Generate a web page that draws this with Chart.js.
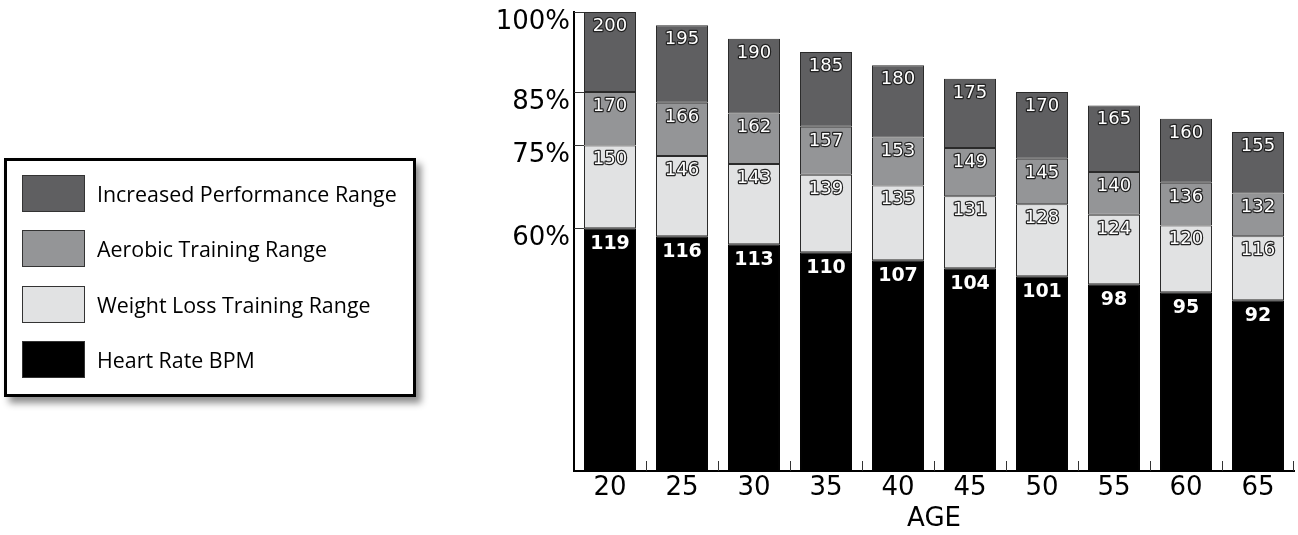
<!DOCTYPE html>
<html>
<head>
<meta charset="utf-8">
<script src="https://cdn.jsdelivr.net/npm/chart.js@4/dist/chart.umd.min.js"></script>
<style>
  html, body { margin: 0; padding: 0; background: #fff; }
  #wrap { position: relative; width: 1298px; height: 535px; overflow: hidden; }
  #c { position: absolute; left: 0; top: 0; }
  #legend {
    position: absolute; left: 4px; top: 158px; width: 406px; height: 233px;
    border: 3px solid #000; background: #fff;
    box-shadow: 5px 6px 7px rgba(0,0,0,0.45);
    font-family: "Open Sans", sans-serif; font-size: 21.4px; color: #000;
  }
  .row { position: absolute; left: 15px; height: 38px; display: flex; align-items: center; }
  .sw { width: 63px; height: 37px; border: 1px solid #333; box-sizing: border-box; margin-right: 12px; }
</style>
</head>
<body>
<div id="wrap">
  <canvas id="c" width="1298" height="535"></canvas>
  <div id="legend"></div>
</div>
<script>
// ---- data ----
const ages = ['20', '25', '30', '35', '40', '45', '50', '55', '60', '65'];
const maxHR = [200, 195, 190, 185, 180, 175, 170, 165, 160, 155];   // 100%
const hr85  = [170, 166, 162, 157, 153, 149, 145, 140, 136, 132];   // 85%
const hr75  = [150, 146, 143, 139, 135, 131, 128, 124, 120, 116];   // 75%
const hr60  = [119, 116, 113, 110, 107, 104, 101, 98, 95, 92];      // 60%
const yTickValues = [200, 170, 150, 119];
const yTickLabels = ['100%', '85%', '75%', '60%'];
const seriesNames = ['Heart Rate BPM', 'Weight Loss Training Range', 'Aerobic Training Range', 'Increased Performance Range'];
const seriesColors = ['#000000', '#e1e2e3', '#949597', '#5f5f61'];

const range = (lo, hi) => lo.map((v, i) => [v, hi[i]]);

const axisFont = { family: '"DejaVu Sans", sans-serif', size: 26 };

const barLabels = {
  id: 'barLabels',
  afterDatasetsDraw(chart) {
    const ctx = chart.ctx;
    ctx.save();
    ctx.textAlign = 'center';
    ctx.textBaseline = 'alphabetic';
    chart.data.datasets.forEach((ds, di) => {
      const meta = chart.getDatasetMeta(di);
      meta.data.forEach((el, i) => {
        const raw = ds.data[i];
        const top = Array.isArray(raw) ? raw[1] : raw;
        const txt = String(top);
        if (di === 0) {
          ctx.font = 'bold 19px "DejaVu Sans", sans-serif';
          ctx.fillStyle = '#ffffff';
          ctx.fillText(txt, el.x, el.y + 21);
        } else {
          ctx.font = '18px "DejaVu Sans", sans-serif';
          ctx.lineWidth = 2.4;
          ctx.strokeStyle = '#222';
          ctx.lineJoin = 'round';
          ctx.strokeText(txt, el.x, el.y + 19);
          ctx.fillStyle = '#ffffff';
          ctx.fillText(txt, el.x, el.y + 19);
        }
      });
    });
    ctx.restore();
  }
};

const innerTicks = {
  id: 'innerTicks',
  afterDatasetsDraw(chart) {
    const ctx = chart.ctx, xs = chart.scales.x, ys = chart.scales.y, a = chart.chartArea;
    ctx.save();
    ctx.strokeStyle = '#333';
    ctx.lineWidth = 1;
    ctx.beginPath();
    for (let i = 0; i < ages.length; i++) {
      const bx = i < ages.length - 1 ? (xs.getPixelForValue(i) + xs.getPixelForValue(i + 1)) / 2 : a.right - 1;
      ctx.moveTo(Math.round(bx) + 0.5, a.bottom);
      ctx.lineTo(Math.round(bx) + 0.5, a.bottom - 10);
    }
    ys.ticks.forEach(t => {
      const py = Math.round(ys.getPixelForValue(t.value)) + 0.5;
      ctx.moveTo(a.left, py);
      ctx.lineTo(a.left + 10, py);
    });
    ctx.stroke();
    ctx.restore();
  }
};

const datasets = [
  { label: seriesNames[0], data: hr60 },
  { label: seriesNames[1], data: range(hr60, hr75) },
  { label: seriesNames[2], data: range(hr75, hr85) },
  { label: seriesNames[3], data: range(hr85, maxHR) }
].map((d, i) => Object.assign(d, {
  backgroundColor: seriesColors[i],
  borderColor: i === 0 ? '#000' : '#2a2a2a',
  borderWidth: 1,
  borderSkipped: false,
  categoryPercentage: 1.0,
  barPercentage: 0.722
}));

const chart = new Chart(document.getElementById('c'), {
  type: 'bar',
  data: { labels: ages, datasets },
  plugins: [barLabels, innerTicks],
  options: {
    responsive: false,
    animation: false,
    devicePixelRatio: 1,
    layout: { padding: { top: 12, right: 4, left: 0, bottom: 0 } },
    plugins: { legend: { display: false }, tooltip: { enabled: false } },
    scales: {
      x: {
        stacked: true,
        grid: { display: false, drawTicks: false },
        border: { display: true, color: '#000', width: 2 },
        ticks: { color: '#000', font: axisFont, padding: 2, maxRotation: 0 },
        title: { display: true, text: 'AGE', color: '#000', font: axisFont, padding: { top: 0, bottom: 0 } },
        afterFit(s) { s.height = 64; s.paddingLeft = 0; s.paddingRight = 0; }
      },
      y: {
        stacked: false,
        min: 28,
        max: 200,
        grid: { display: false, drawTicks: false },
        border: { display: true, color: '#000', width: 2 },
        afterBuildTicks(s) { s.ticks = yTickValues.map(v => ({ value: v })); },
        ticks: {
          color: '#000', font: axisFont, padding: 4, labelOffset: 10, autoSkip: false,
          callback: (v, i) => yTickLabels[i]
        },
        afterFit(s) { s.width = 574; s.paddingTop = 0; s.paddingBottom = 0; }
      }
    }
  }
});

// HTML legend built from the chart's datasets (top series first)
const leg = document.getElementById('legend');
const order = [3, 2, 1, 0];
order.forEach((di, k) => {
  const ds = chart.data.datasets[di];
  const row = document.createElement('div');
  row.className = 'row';
  row.style.top = (13 + k * 55.5) + 'px';
  const sw = document.createElement('div');
  sw.className = 'sw';
  sw.style.background = ds.backgroundColor;
  const tx = document.createElement('span');
  tx.textContent = ds.label;
  row.appendChild(sw); row.appendChild(tx);
  leg.appendChild(row);
});
</script>
</body>
</html>
